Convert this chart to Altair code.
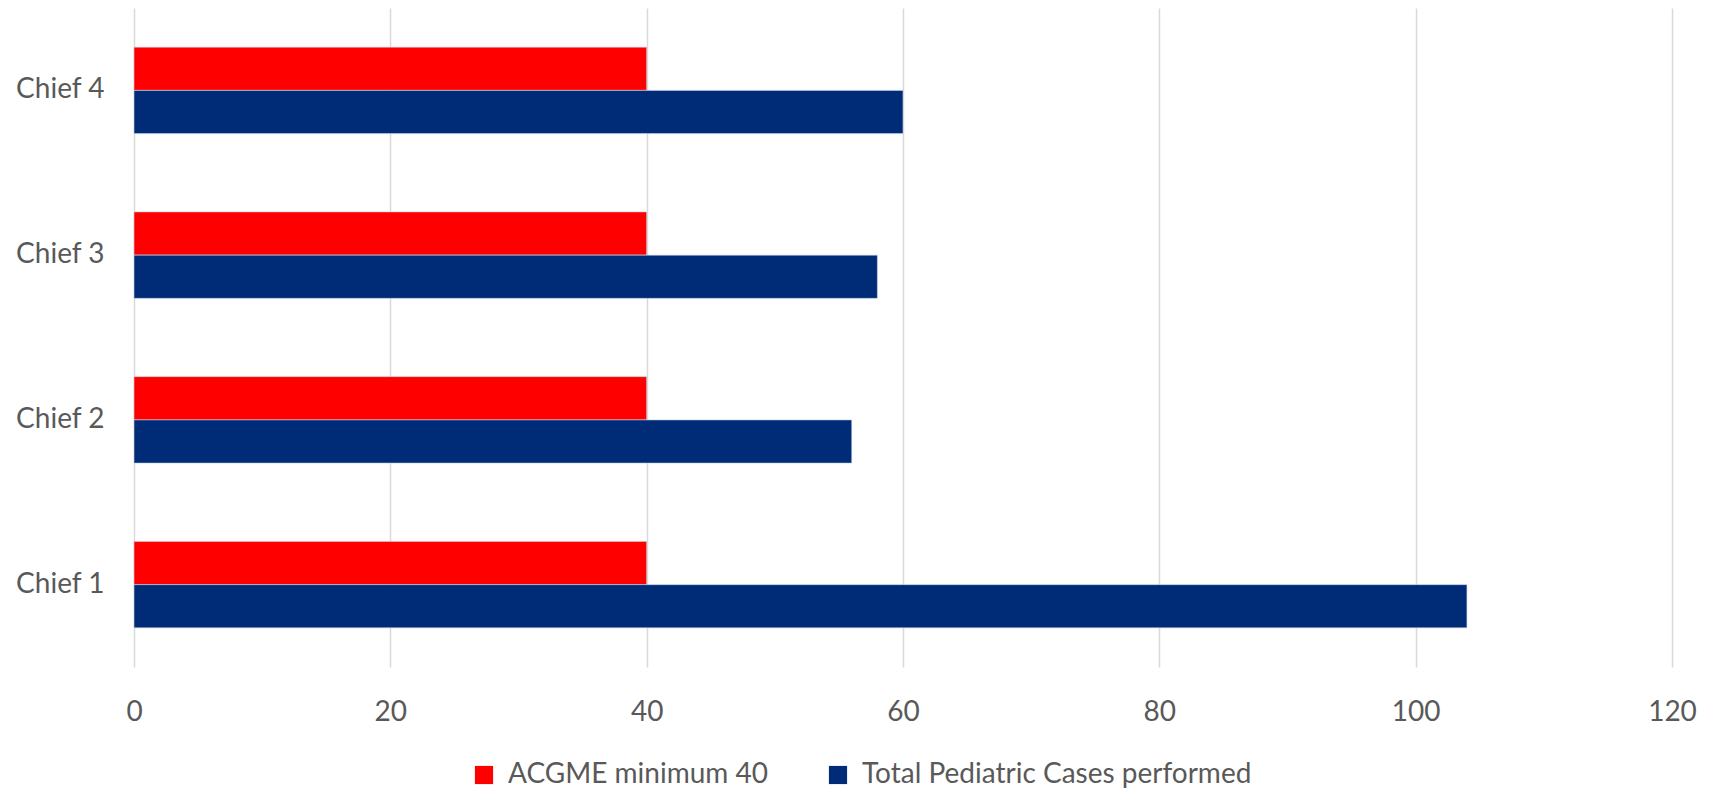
import altair as alt
import pandas as pd

categories = ["Chief 1", "Chief 2", "Chief 3", "Chief 4"]
series_names = ["ACGME minimum 40", "Total Pediatric Cases performed"]
acgme_min = [40, 40, 40, 40]
total_cases = [104, 56, 58, 60]
x_ticks = [0, 20, 40, 60, 80, 100, 120]
colors = ["#FF0000", "#002B77"]

rows = []
for c, a, t in zip(categories, acgme_min, total_cases):
    rows.append({"Chief": c, "Series": series_names[0], "Value": a})
    rows.append({"Chief": c, "Series": series_names[1], "Value": t})
df = pd.DataFrame(rows)

FONT = "Lato"
TXT = "#595959"
FS = 28

chart = alt.Chart(df).mark_bar(stroke="#C9D3E6", strokeWidth=0.6).encode(
    y=alt.Y("Chief:N", sort=categories[::-1],
            scale=alt.Scale(paddingInner=0.475, paddingOuter=0.2375),
            axis=alt.Axis(title=None, domain=False, ticks=False, labelFontSize=FS,
                          labelColor=TXT, labelFont=FONT, labelPadding=30, grid=False)),
    yOffset=alt.YOffset("Series:N", sort=series_names),
    x=alt.X("Value:Q", scale=alt.Scale(domain=[0, 120], nice=False),
            axis=alt.Axis(title=None, values=x_ticks, domain=False, ticks=False,
                          labelFontSize=FS, labelColor=TXT, labelFont=FONT,
                          labelFlush=False, labelPadding=31,
                          gridColor="#D9D9D9", gridWidth=1.5)),
    color=alt.Color("Series:N", sort=series_names,
                    scale=alt.Scale(domain=series_names, range=colors),
                    legend=alt.Legend(title=None, orient="none", direction="horizontal",
                                      legendX=336, legendY=753,
                                      symbolType="square", symbolSize=330,
                                      symbolStrokeWidth=0, labelFontSize=FS,
                                      labelColor=TXT, labelFont=FONT, labelLimit=0,
                                      columnPadding=56, labelOffset=10)),
).properties(
    width=1538, height=659,
    autosize=alt.AutoSizeParams(type="none"),
    padding={"left": 126, "top": 0, "right": 40, "bottom": 126},
).configure_view(stroke=None)

chart.save("out.html", embed_options={"renderer": "svg", "actions": False})
